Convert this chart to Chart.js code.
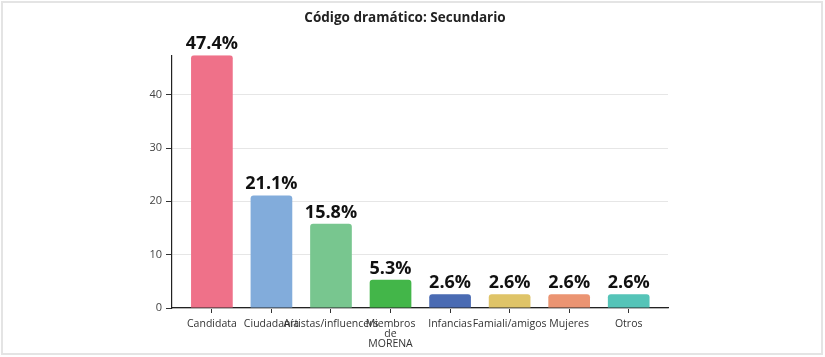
<!DOCTYPE html>
<html>
<head>
<meta charset="utf-8">
<script src="https://cdn.jsdelivr.net/npm/chart.js@4"></script>
<style>
  body { margin: 0; background: #fff; }
  #wrap { position: relative; width: 825px; height: 357px; }
  #frame { position: absolute; left: 1px; top: 1px; width: 822px; height: 354px;
           border: 2px solid #e4e4e4; box-sizing: border-box; pointer-events: none; }
</style>
</head>
<body>
<div id="wrap">
  <canvas id="chart" width="825" height="357"></canvas>
  <div id="frame"></div>
</div>
<script>
// categories and values (percent)
const categories = ["Candidata", "Ciudadanía", "Artistas/influencers", ["Miembros", "de", "MORENA"],
                    "Infancias", "Famiali/amigos", "Mujeres", "Otros"];
const values = [47.4, 21.1, 15.8, 5.3, 2.6, 2.6, 2.6, 2.6];
const barColors = ["#ef7189", "#82acdb", "#78c68f", "#43b649",
                   "#4a6bb3", "#dfc468", "#eb9472", "#55c4b8"];
const yTicks = [0, 10, 20, 30, 40];

// percent labels over each bar
const barLabels = {
  id: 'barLabels',
  afterDatasetsDraw(chart) {
    const ctx = chart.ctx;
    const meta = chart.getDatasetMeta(0);
    ctx.save();
    ctx.font = 'bold 18px "Open Sans"';
    ctx.fillStyle = '#111';
    ctx.textAlign = 'center';
    ctx.textBaseline = 'alphabetic';
    meta.data.forEach((bar, i) => {
      ctx.fillText(values[i].toFixed(1) + '%', bar.x, bar.y - 6);
    });
    ctx.restore();
  }
};

const ctx = document.getElementById('chart');
new Chart(ctx, {
  type: 'bar',
  data: {
    datasets: [{
      data: values.map((v, i) => ({ x: i, y: v })),
      backgroundColor: barColors,
      borderRadius: 3,
      borderSkipped: 'bottom',
      barPercentage: 0.7,
      categoryPercentage: 1
    }]
  },
  plugins: [barLabels],
  options: {
    responsive: false,
    animation: false,
    layout: { padding: { left: 142, right: 157, top: 0, bottom: 0 } },
    plugins: {
      legend: { display: false },
      tooltip: { enabled: false },
      title: {
        display: true,
        text: 'Código dramático: Secundario',
        color: '#222',
        font: { family: 'Open Sans', size: 13.5, weight: 'bold' },
        padding: { top: 10, bottom: 29 }
      }
    },
    scales: {
      x: {
        type: 'linear',
        offset: false,
        min: -0.67,
        max: 7.66,
        afterBuildTicks: s => { s.ticks = categories.map((c, i) => ({ value: i })); },
        afterFit: s => { s.height = 49; },
        ticks: {
          autoSkip: false,
          maxRotation: 0,
          minRotation: 0,
          padding: 6,
          color: '#333',
          font: { family: 'Open Sans', size: 10.5, lineHeight: 0.95 },
          callback: v => categories[v]
        },
        grid: { offset: false, drawOnChartArea: false, drawTicks: true, tickLength: 5, tickColor: '#333' },
        border: { color: '#222', width: 1.2 }
      },
      y: {
        min: 0,
        max: 47.4,
        afterBuildTicks: s => { s.ticks = yTicks.map(v => ({ value: v })); },
        afterFit: s => { s.width = 30; },
        ticks: {
          padding: 4,
          color: '#444',
          font: { family: 'Open Sans', size: 11 }
        },
        grid: { color: '#e6e6e6', lineWidth: 1, tickLength: 6, tickColor: '#333' },
        border: { color: '#222', width: 1.2 }
      }
    }
  }
});
</script>
</body>
</html>
